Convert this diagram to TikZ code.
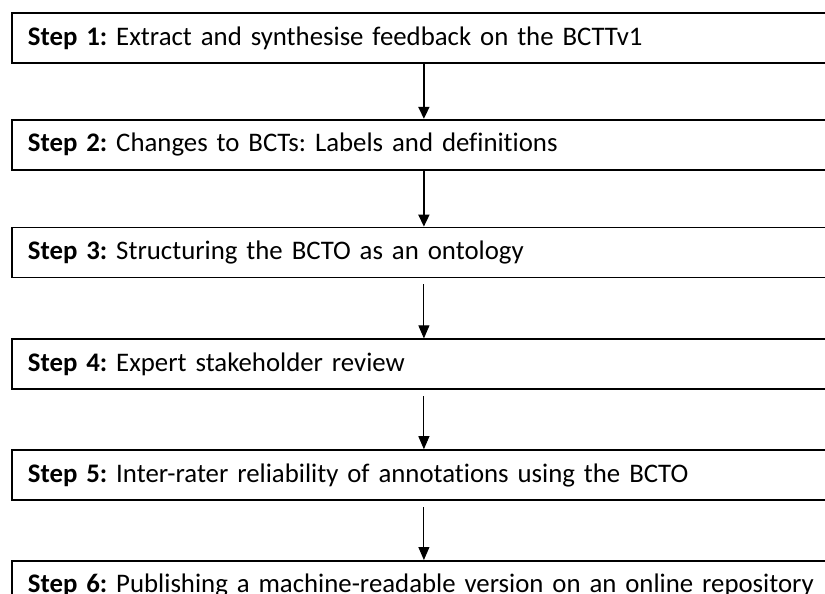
\documentclass[tikz,border=0pt]{standalone}
\usepackage{fontspec}
\setmainfont{Carlito}[Ligatures=NoCommon]
\usetikzlibrary{positioning,arrows.meta}
\frenchspacing

\begin{document}
\begin{tikzpicture} [x=1pt, y=-1pt, node distance=56pt,
                    stepbox/.style={rectangle,draw,line width=1.8pt,minimum width=824pt,
                      minimum height=50pt,inner xsep=16pt,text width=792pt,align=left,
                      font=\fontsize{26.8}{31}\selectfont},
                    thickarr/.style={line width=1.8pt,-{Triangle[length=12pt,width=11pt]}},
                    thinarr/.style={line width=0.9pt,-{Triangle[length=13pt,width=11pt]}}]

\useasboundingbox (0,0) rectangle (825,594);
\clip (0,0) rectangle (825,594);

\node[stepbox,anchor=north west] (S1) at (11,12) {\textbf{Step 1:} Extract and synthesise feedback on the BCTTv1};
\node[stepbox] (S2) [below=55pt of S1] {\textbf{Step 2:} Changes to BCTs: Labels and definitions};
\node[stepbox] (S3) [below=56pt of S2] {\textbf{Step 3:} Structuring the BCTO as an ontology};
\node[stepbox] (S4) [below=60pt of S3] {\textbf{Step 4:} Expert stakeholder review};
\node[stepbox] (S5) [below=59pt of S4] {\textbf{Step 5:} Inter-rater reliability of annotations using the BCTO};
\node[stepbox] (S6) [below=59pt of S5] {\textbf{Step 6:} Publishing a machine-readable version on an online repository};

 \path
    (S1) edge[thickarr] (S2)
    (S2) edge[thickarr] (S3)
    ([yshift=-6pt]S3.south) edge[thinarr] (S4.north)
    ([yshift=-6pt]S4.south) edge[thinarr] (S5.north)
    ([yshift=-6pt]S5.south) edge[thinarr] (S6.north);
\end{tikzpicture}
\end{document}
